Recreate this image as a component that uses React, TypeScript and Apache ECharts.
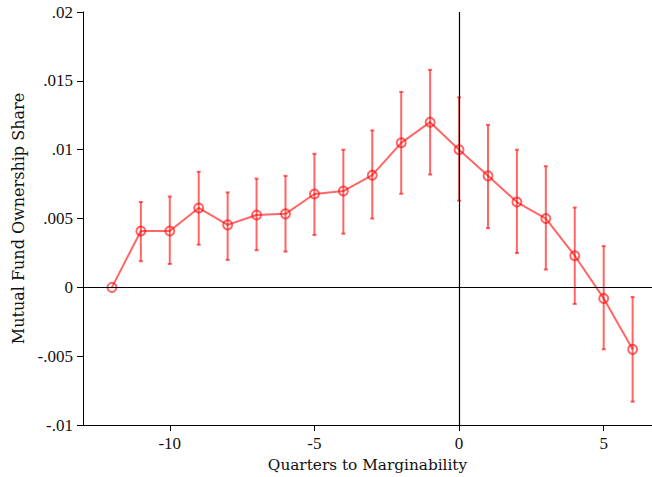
import React, { useEffect, useRef } from "react";
import * as echarts from "echarts";

const quarters = [-12, -11, -10, -9, -8, -7, -6, -5, -4, -3, -2, -1, 0, 1, 2, 3, 4, 5, 6];
const estimates = [0, 0.0041, 0.0041, 0.00577, 0.00454, 0.00526, 0.00534, 0.00678, 0.007, 0.00815, 0.0105, 0.012, 0.01, 0.0081, 0.0062, 0.005, 0.0023, -0.0008, -0.0045];
const ciLow = [0, 0.0019, 0.0017, 0.0031, 0.002, 0.0027, 0.0026, 0.0038, 0.0039, 0.005, 0.0068, 0.0082, 0.0063, 0.0043, 0.0025, 0.0013, -0.0012, -0.0045, -0.0083];
const ciHigh = [0, 0.0062, 0.0066, 0.0084, 0.0069, 0.0079, 0.0081, 0.0097, 0.01, 0.0114, 0.0142, 0.0158, 0.0138, 0.0118, 0.01, 0.0088, 0.0058, 0.003, -0.0007];
const xTicks = [-10, -5, 0, 5];
const yTickLabels: Record<string, string> = {
  "0.02": ".02", "0.015": ".015", "0.01": ".01", "0.005": ".005", "0": "0", "-0.005": "-.005", "-0.01": "-.01",
};

const RED = "rgba(255,0,0,0.6)";
const TICK_FONT = "Liberation Serif";
const TITLE_FONT = "DejaVu Serif";

export default function App() {
  const ref = useRef<HTMLDivElement>(null);
  useEffect(() => {
    if (!ref.current) return;
    const chart = echarts.init(ref.current, null, { renderer: "svg" });
    const errData = quarters
      .map((q, i) => [q, ciLow[i], ciHigh[i]])
      .filter((d) => d[1] !== d[2]);
    chart.setOption({
      animation: false,
      grid: { left: 83, right: 0, top: 12, bottom: 49.5, containLabel: false },
      xAxis: {
        type: "value",
        min: -13,
        max: 6.67,
        name: "Quarters to Marginability",
        nameLocation: "middle",
        nameGap: 30,
        nameTextStyle: { fontFamily: TITLE_FONT, fontSize: 15.3, color: "#111" },
        axisLine: { show: true, onZero: false, lineStyle: { color: "#000", width: 1 } },
        axisTick: { show: true, inside: false, length: 6, lineStyle: { color: "#000" }, customValues: xTicks },
        axisLabel: {
          fontFamily: TICK_FONT, fontSize: 17, color: "#111", margin: 10,
          customValues: xTicks,
          formatter: (v: number) => String(v),
        },
        splitLine: { show: false },
      },
      yAxis: {
        type: "value",
        min: -0.01,
        max: 0.02,
        interval: 0.005,
        name: "Mutual Fund Ownership Share",
        nameLocation: "middle",
        nameGap: 56,
        nameTextStyle: { fontFamily: TITLE_FONT, fontSize: 16, color: "#111" },
        axisLine: { show: true, onZero: false, lineStyle: { color: "#000", width: 1 } },
        axisTick: { show: true, inside: false, length: 6, lineStyle: { color: "#000" } },
        axisLabel: {
          fontFamily: TICK_FONT, fontSize: 17, color: "#111", margin: 10,
          formatter: (v: number) => yTickLabels[String(Number(v.toFixed(3)))] ?? String(v),
        },
        splitLine: { show: false },
      },
      series: [
        {
          type: "custom",
          z: 2,
          renderItem: (params: any, api: any) => {
            const x = api.value(0);
            const lo = api.coord([x, api.value(1)]);
            const hi = api.coord([x, api.value(2)]);
            const cap = 2;
            return {
              type: "group",
              children: [
                { type: "line", shape: { x1: lo[0], y1: lo[1], x2: hi[0], y2: hi[1] }, style: { stroke: RED, lineWidth: 2 } },
                { type: "line", shape: { x1: lo[0] - cap, y1: lo[1], x2: lo[0] + cap, y2: lo[1] }, style: { stroke: RED, lineWidth: 2 } },
                { type: "line", shape: { x1: hi[0] - cap, y1: hi[1], x2: hi[0] + cap, y2: hi[1] }, style: { stroke: RED, lineWidth: 2 } },
              ],
            };
          },
          encode: { x: 0, y: [1, 2] },
          data: errData,
        },
        {
          type: "line",
          z: 3,
          data: quarters.map((q, i) => [q, estimates[i]]),
          symbol: "circle",
          symbolSize: 9,
          lineStyle: { color: RED, width: 2 },
          itemStyle: { color: "rgba(0,0,0,0)", borderColor: RED, borderWidth: 2 },
          markLine: {
            silent: true,
            symbol: "none",
            label: { show: false },
            lineStyle: { color: "#000", width: 1.2, type: "solid" },
            data: [{ xAxis: 0 }, { yAxis: 0 }],
          },
        },
      ],
    });
    return () => chart.dispose();
  }, []);
  return <div ref={ref} style={{ width: 652, height: 477, position: "absolute", left: 0, top: 0 }} />;
}
